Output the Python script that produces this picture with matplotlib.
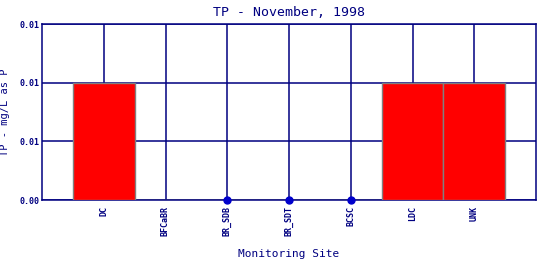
import numpy as np
import matplotlib; matplotlib.use("Agg"); import matplotlib.pyplot as plt

sites=["DC","BFCaBR","BR_SDB","BR_SDT","BCSC","LDC","UNK"]
tp=[0.01,0.0,np.nan,np.nan,np.nan,0.01,0.01]   # nan = not detected (dot on the axis)
yticks=[0.0,0.005,0.01,0.015]

NAVY="#000080"
plt.rcParams["font.family"]=["DejaVu Sans Mono","DejaVu Sans"]
fig=plt.figure(figsize=(5.4,2.6),dpi=100)
ax=fig.add_axes([42/540,1-200/260,494/540,176/260])

x=np.arange(1,len(sites)+1)
vals=np.nan_to_num(tp)
ax.bar(x,vals,width=1.0,color="red",edgecolor="grey",linewidth=1,zorder=3)
nd=np.isnan(tp)
ax.plot(x[nd],np.zeros(nd.sum()),"o",color="#0000cc",ms=5,zorder=4,clip_on=False)

ax.set_xlim(0,len(sites)+1); ax.set_ylim(0,0.015)
ax.set_xticks(x); ax.set_xticklabels(sites,rotation=90,fontsize=6,color=NAVY,fontweight="bold")
ax.set_yticks(yticks); ax.set_yticklabels([f"{v:.2f}" for v in yticks],fontsize=6,color=NAVY,fontweight="bold")
ax.tick_params(axis="x",length=0,pad=4)
ax.tick_params(axis="y",length=0,pad=2)
ax.grid(True,color=NAVY,linewidth=1.1,zorder=0); ax.set_axisbelow(True)
for s in ax.spines.values(): s.set_color(NAVY); s.set_linewidth(1.1)
ax.set_title("TP - November, 1998",fontsize=9.5,color=NAVY,pad=6)
ax.set_xlabel("Monitoring Site",fontsize=8,color=NAVY,labelpad=10)
ax.set_ylabel("TP - mg/L as P",fontsize=7.5,color=NAVY)
ax.yaxis.set_label_coords(-0.064,0.5)
fig.savefig("out.png",dpi=100)
